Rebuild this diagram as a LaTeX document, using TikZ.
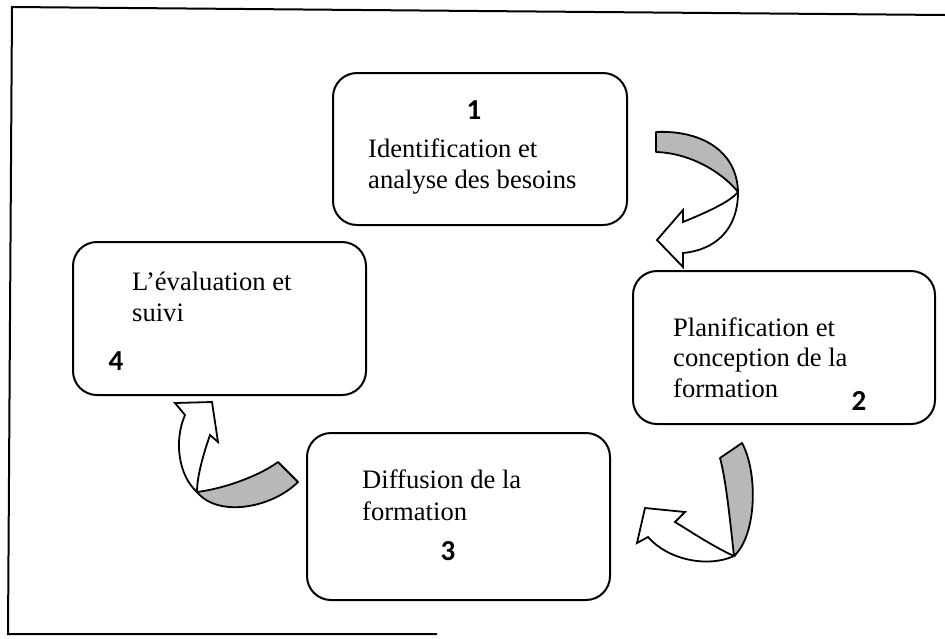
\documentclass[tikz,border=0pt]{standalone}
\usepackage{fontspec}
\setmainfont{Liberation Serif}
\newfontfamily\numfont{Carlito}
\begin{document}
\begin{tikzpicture}[x=1pt,y=-1pt,
  stepbox/.style={draw, line width=2pt, rounded corners=24pt, inner sep=0pt},
  lbl/.style={anchor=base west, inner sep=0pt, font=\fontsize{26.6}{31}\selectfont},
  num/.style={anchor=base, inner sep=0pt, font=\fontsize{29}{32}\numfont\bfseries},
  backface/.style={draw, line width=1.8pt, fill=black!28, line join=round},
  frontface/.style={draw, line width=1.8pt, fill=white, line join=miter},
  frame/.style={line width=2pt, line cap=rect}]
\useasboundingbox (0,0) rectangle (945,638);

% outer frame
\draw[frame] (945,15) -- (12,7) -- (8,634) -- (436,634);

% the four stages
\node[stepbox, minimum width=294pt, minimum height=152pt] (b1) at (480,149) {};
\node[stepbox, minimum width=302pt, minimum height=153pt] (b2) at (784,347.5) {};
\node[stepbox, minimum width=303pt, minimum height=167pt] (b3) at (458.5,516.5) {};
\node[stepbox, minimum width=293pt, minimum height=153pt] (b4) at (219.5,318.5) {};

\node[num] (n1) at (474,119) {1};
\node[lbl] (t1a) at (368,157) {Identification et};
\node[lbl] (t1b) at (368,188) {analyse des besoins};

\node[lbl] (t2a) at (673,336) {Planification et};
\node[lbl] (t2b) at (673,366) {conception de la};
\node[lbl] (t2c) at (673,397) {formation};
\node[num] (n2) at (859,410) {2};

\node[lbl] (t3a) at (362,488) {Diffusion de la};
\node[lbl] (t3b) at (362,520) {formation};
\node[num] (n3) at (448,560) {3};

\node[lbl] (t4a) at (132,290) {L’évaluation et};
\node[lbl] (t4b) at (132,321) {suivi};
\node[num] (n4) at (116,370) {4};

% curved arrow from stage 1 to stage 2
\draw[backface] (656,132) .. controls (700,130) and (737,150) .. (738,192)
  .. controls (722,172) and (690,153) .. (656,152) -- cycle;
\draw[frontface] (738,192) .. controls (730,202) and (705,213) .. (683,222)
  -- (683,210) -- (657,240) -- (683,267) -- (683,253)
  .. controls (715,250) and (738,230) .. (738,192) -- cycle;

% curved arrow from stage 2 to stage 3
\draw[backface] (720,458) -- (742,443) .. controls (758,472) and (757,535) .. (734,556)
  .. controls (730,520) and (726,480) .. (720,458) -- cycle;
\draw[frontface] (734,556) .. controls (712,546) and (690,531) .. (675,522)
  -- (685,512) -- (645,508) -- (637,543) -- (648,537)
  .. controls (668,560) and (708,568) .. (734,556) -- cycle;

% curved arrow from stage 3 to stage 4
\draw[backface] (197,492) .. controls (228,488) and (262,474) .. (278,462)
  -- (298,482) .. controls (272,508) and (218,518) .. (197,492) -- cycle;
\draw[frontface] (197,492) .. controls (178,475) and (174,440) .. (185,415)
  -- (175,403) -- (212,402) -- (218,442) -- (210,435)
  .. controls (202,458) and (197,478) .. (197,492) -- cycle;
\end{tikzpicture}
\end{document}
